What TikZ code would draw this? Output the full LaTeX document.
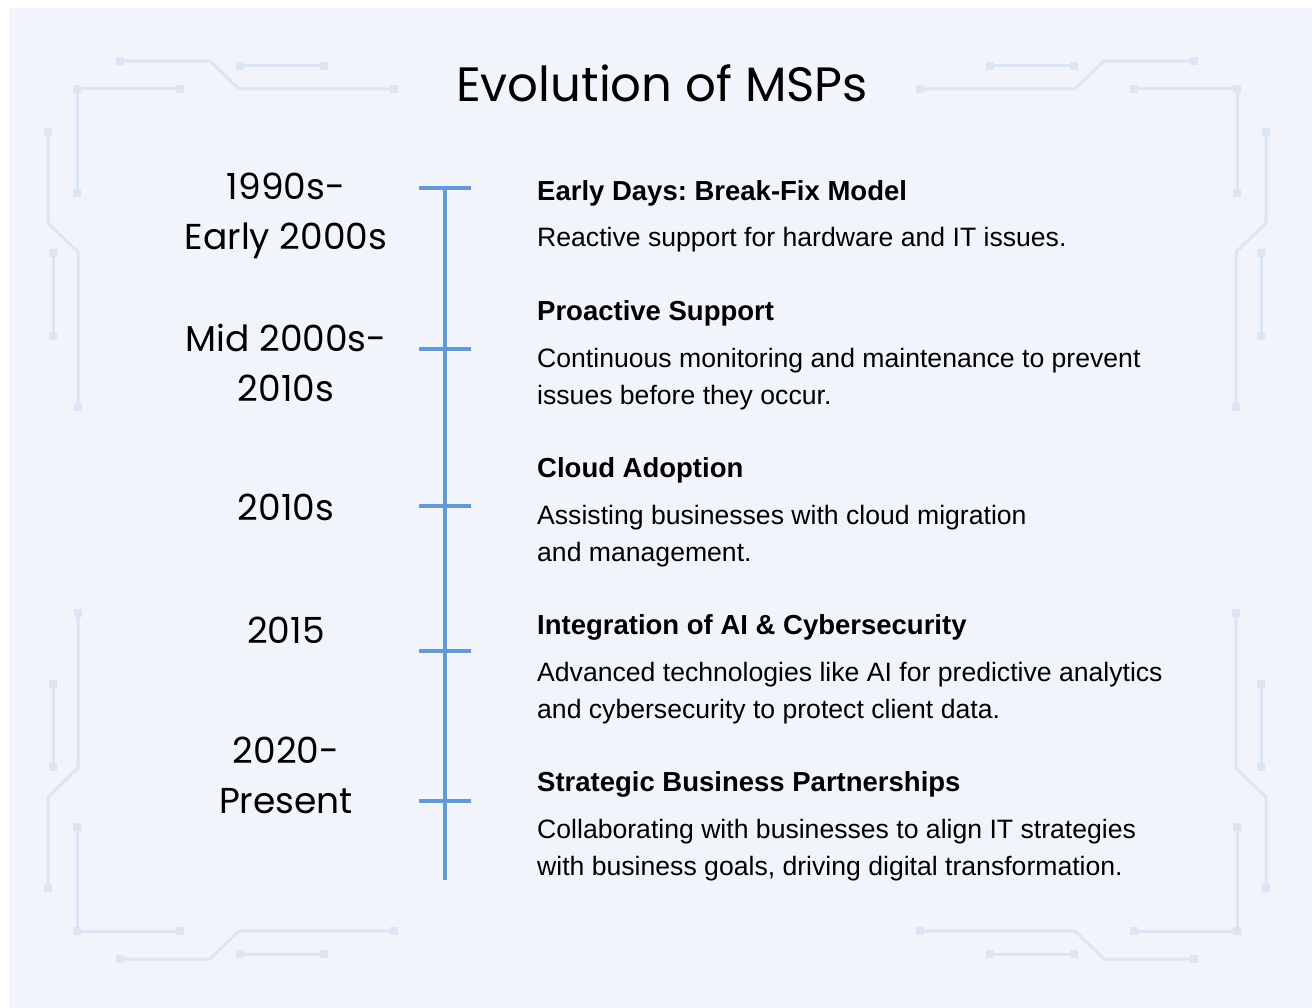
\documentclass[tikz,border=0pt]{standalone}
\usepackage{fontspec}
\setmainfont{Liberation Sans}
\newfontfamily\datefont{Poppins}
\frenchspacing
\usepackage{tikz}
\usetikzlibrary{positioning}
\definecolor{panel}{HTML}{F1F5FB}
\definecolor{circuit}{HTML}{DCE5F3}
\definecolor{axisblue}{HTML}{6499D6}
\tikzset{
  x=1pt,y=-1pt,
  trace/.style={draw=circuit,line width=3pt},
  axisline/.style={draw=axisblue,line width=4pt},
  titletext/.style={font=\datefont\fontsize{48.2}{58}\selectfont,inner sep=0},
  datetext/.style={font=\datefont\fontsize{36}{50}\selectfont,align=center,inner sep=0},
  headtext/.style={font=\bfseries\fontsize{27.5}{32}\selectfont,anchor=base west,inner sep=0},
  % multi-line nodes sit on the baseline of their last line
  desctext/.style={font=\fontsize{26.6}{37}\selectfont,anchor=base west,align=left,inner sep=0}
}
% square solder pad on a trace
\newcommand{\pad}[1]{\fill[circuit] (#1) +(-4,-4) rectangle +(4,4);}
% one corner of the circuit border
\newcommand{\circuitcorner}{%
  \draw[trace] (120,61) -- (210,61) -- (239,89) -- (394,89);
  \pad{120,61} \pad{394,89}
  \draw[trace] (240,66) -- (324,66);
  \pad{240,66} \pad{324,66}
  \draw[trace] (77,193) -- (77,89) -- (180,89);
  \pad{77,193} \pad{77,89} \pad{180,89}
  \draw[trace] (48,132) -- (48,223) -- (78,252) -- (78,407);
  \pad{48,132} \pad{78,407}
  \draw[trace] (53,253) -- (53,336);
  \pad{53,253} \pad{53,336}
}

\begin{document}
\begin{tikzpicture}
  \useasboundingbox (0,0) rectangle (1312,1008);
  \fill[white] (0,0) rectangle (1312,1008);
  \fill[panel] (9,8) rectangle (1312,1008);

  % circuit traces in the four corners
  \begin{scope}
    \circuitcorner
  \end{scope}
  \begin{scope}[shift={(1314,0)},xscale=-1]
    \circuitcorner
  \end{scope}
  \begin{scope}[shift={(0,1020)},yscale=-1]
    \circuitcorner
  \end{scope}
  \begin{scope}[shift={(1314,1020)},xscale=-1,yscale=-1]
    \circuitcorner
  \end{scope}

  \node[titletext] (title) at (662,83) {Evolution of MSPs};

  % timeline axis
  \coordinate (top) at (445,188);
  \coordinate (bottom) at (445,880);
  \coordinate (t1) at (445,188);
  \coordinate (t2) at (445,349);
  \coordinate (t3) at (445,506);
  \coordinate (t4) at (445,651);
  \coordinate (t5) at (445,801);
  \draw[axisline] (top) -- (bottom);
  \foreach \t in {t1,t2,t3,t4,t5}
    \draw[axisline] ([xshift=-26pt]\t) -- ([xshift=26pt]\t);

  % periods
  \node[datetext] (d1) at (286,216) {1990s-\\Early 2000s};
  \node[datetext] (d2) at (286,363) {Mid 2000s-\\2010s};
  \node[datetext] (d3) at (286,507) {2010s};
  \node[datetext] (d4) at (286,630) {2015};
  \node[datetext] (d5) at (286,775) {2020-\\Present};

  % milestones
  \node[headtext] (h1) at (537,201) {Early Days: Break-Fix Model};
  \node[desctext] (e1) at (537,247) {Reactive support for hardware and IT issues.};
  \node[headtext] (h2) at (537,320) {Proactive Support};
  \node[desctext] (e2) at (537,404) {Continuous monitoring and maintenance to prevent\\issues before they occur.};
  \node[headtext] (h3) at (537,477) {Cloud Adoption};
  \node[desctext] (e3) at (537,561) {Assisting businesses with cloud migration\\and management.};
  \node[headtext] (h4) at (537,634) {Integration of AI \& Cybersecurity};
  \node[desctext] (e4) at (537,718) {Advanced technologies like AI for predictive analytics\\and cybersecurity to protect client data.};
  \node[headtext] (h5) at (537,791) {Strategic Business Partnerships};
  \node[desctext] (e5) at (537,875) {Collaborating with businesses to align IT strategies\\with business goals, driving digital transformation.};
\end{tikzpicture}
\end{document}
